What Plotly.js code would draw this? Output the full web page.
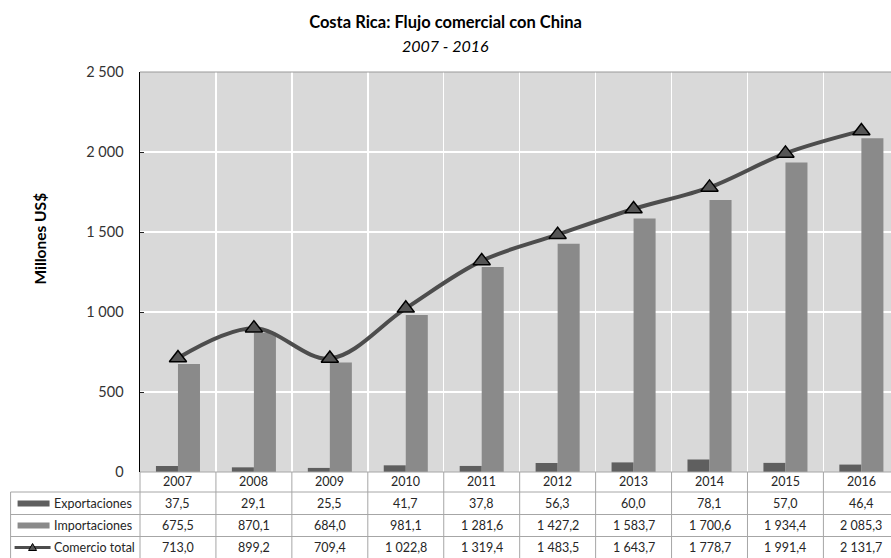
<!DOCTYPE html>
<html>
<head>
<meta charset="utf-8">
<script src="https://cdn.plot.ly/plotly-3.0.1.min.js"></script>
<style>
html,body{margin:0;padding:0;background:#fff;}
#chart{width:891px;height:558px;}
</style>
</head>
<body>
<div id="chart"></div>
<script>
// ---- Data ----
var years = ['2007','2008','2009','2010','2011','2012','2013','2014','2015','2016'];
var exportaciones = [37.5, 29.1, 25.5, 41.7, 37.8, 56.3, 60.0, 78.1, 57.0, 46.4];
var importaciones = [675.5, 870.1, 684.0, 981.1, 1281.6, 1427.2, 1583.7, 1700.6, 1934.4, 2085.3];
var comercioTotal = [713.0, 899.2, 709.4, 1022.8, 1319.4, 1483.5, 1643.7, 1778.7, 1991.4, 2131.7];
var seriesNames = ['Exportaciones', 'Importaciones', 'Comercio total'];
var yTickVals = [0, 500, 1000, 1500, 2000, 2500];
var yTickText = ['0', '500', '1 000', '1 500', '2 000', '2 500'];

// ---- Helpers ----
function fmt(v) {
  var s = v.toFixed(1).split('.');
  var ip = s[0].replace(/\B(?=(\d{3})+(?!\d))/g, ' ');
  return ip + ',' + s[1];
}

var W = 891, H = 558;
var mL = 139.5, mR = 0, mT = 72, mB = 86;
var plotW = W - mL - mR, plotH = H - mT - mB;
var xRange = [-0.5, 9.39];
function px2paperX(p) { return (p - mL) / plotW; }
function px2paperY(p) { return (H - mB - p) / plotH; }
function data2paperX(d) { return (d - xRange[0]) / (xRange[1] - xRange[0]); }

var colExp = '#5f5f5f', colImp = '#8a8a8a', colLine = '#4d4d4d';
var gridCol = '#a6a6a6';
var txtCol = '#262626';
var fontFam = 'Lato, "Open Sans", sans-serif';

var traces = [
  {type:'bar', name:seriesNames[0], x:years, y:exportaciones,
   marker:{color:colExp, line:{width:0}}, hoverinfo:'skip'},
  {type:'bar', name:seriesNames[1], x:years, y:importaciones,
   marker:{color:colImp, line:{width:0}}, hoverinfo:'skip'},
  {type:'scatter', mode:'lines+markers', name:seriesNames[2], x:years, y:comercioTotal,
   line:{color:colLine, width:4, shape:'spline', smoothing:1},
   marker:{symbol:'triangle-up', size:15, color:'#555555', line:{color:'#000', width:1.5}},
   hoverinfo:'skip'}
];

// ---- Table (shapes & annotations) ----
var shapes = [];
var annotations = [];
var rowLinesPx = [492, 514.5, 536.5, 558.5];
var rowCentersPx = [482, 503.5, 525.5, 547.5];
var xLeftPaper = px2paperX(10);
var xRightPaper = 1.0;

shapes.push({type:'line', xref:'paper', yref:'paper', x0:0, x1:xRightPaper, y0:0, y1:0,
  line:{color:gridCol, width:1}});
rowLinesPx.forEach(function(p){
  shapes.push({type:'line', xref:'paper', yref:'paper', x0:xLeftPaper, x1:xRightPaper,
    y0:px2paperY(p), y1:px2paperY(p), line:{color:gridCol, width:1}});
});
shapes.push({type:'line', xref:'paper', yref:'paper', x0:xLeftPaper, x1:xLeftPaper,
  y0:px2paperY(rowLinesPx[0]), y1:px2paperY(rowLinesPx[3]), line:{color:gridCol, width:1}});
for (var k = 0; k <= years.length; k++) {
  var xp = data2paperX(k - 0.5);
  if (xp > 1.0001) continue;
  shapes.push({type:'line', xref:'paper', yref:'paper', x0:xp, x1:xp,
    y0:0, y1:px2paperY(rowLinesPx[3]), line:{color:gridCol, width:1}});
}
shapes.push({type:'line', xref:'paper', yref:'paper', x0:0, x1:1, y0:1, y1:1,
  line:{color:'#9a9a9a', width:1.2}});

var rows = [exportaciones, importaciones, comercioTotal];
years.forEach(function(yr, i){
  annotations.push({xref:'x', yref:'paper', x:i, y:px2paperY(rowCentersPx[0]),
    text:yr, showarrow:false, font:{family:fontFam, size:12.5, color:txtCol},
    xanchor:'center', yanchor:'middle'});
  rows.forEach(function(r, j){
    annotations.push({xref:'x', yref:'paper', x:i, y:px2paperY(rowCentersPx[j+1]),
      text:fmt(r[i]), showarrow:false, font:{family:fontFam, size:12.5, color:txtCol},
      xanchor:'center', yanchor:'middle'});
  });
});

var swX0 = px2paperX(17), swX1 = px2paperX(49);
shapes.push({type:'rect', xref:'paper', yref:'paper', x0:swX0, x1:swX1,
  y0:px2paperY(rowCentersPx[1]+3), y1:px2paperY(rowCentersPx[1]-3),
  fillcolor:colExp, line:{width:0}});
shapes.push({type:'rect', xref:'paper', yref:'paper', x0:swX0, x1:swX1,
  y0:px2paperY(rowCentersPx[2]+3), y1:px2paperY(rowCentersPx[2]-3),
  fillcolor:colImp, line:{width:0}});
shapes.push({type:'line', xref:'paper', yref:'paper', x0:px2paperX(14), x1:px2paperX(50),
  y0:px2paperY(rowCentersPx[3]), y1:px2paperY(rowCentersPx[3]),
  line:{color:colLine, width:3}});
var tcx = 32, tcy = rowCentersPx[3];
shapes.push({type:'path', xref:'paper', yref:'paper',
  path:'M '+px2paperX(tcx-4)+' '+px2paperY(tcy+3)+' L '+px2paperX(tcx+4)+' '+px2paperY(tcy+3)+
       ' L '+px2paperX(tcx)+' '+px2paperY(tcy-4)+' Z',
  fillcolor:'#555555', line:{color:'#000', width:1}});

seriesNames.forEach(function(n, j){
  annotations.push({xref:'paper', yref:'paper', x:px2paperX(51), y:px2paperY(rowCentersPx[j+1]),
    text:n, showarrow:false, font:{family:fontFam, size:12.5, color:txtCol},
    xanchor:'left', yanchor:'middle'});
});

annotations.push({xref:'paper', yref:'paper', x:px2paperX(445.5), y:px2paperY(45),
  text:'<i>2007 - 2016</i>', showarrow:false, font:{family:fontFam, size:16, color:'#000'},
  xanchor:'center', yanchor:'middle'});
annotations.push({xref:'paper', yref:'paper', x:px2paperX(39), y:px2paperY(239),
  text:'<b>Millones US$</b>', showarrow:false, textangle:-90,
  font:{family:fontFam, size:15.5, color:'#000'}, xanchor:'center', yanchor:'middle'});

var layout = {
  width:W, height:H,
  margin:{l:mL, r:mR, t:mT, b:mB, pad:0},
  paper_bgcolor:'#ffffff', plot_bgcolor:'#d9d9d9',
  showlegend:false,
  barmode:'group', bargap:0.42, bargroupgap:0,
  title:{text:'<b>Costa Rica: Flujo comercial con China</b>', xref:'container', yref:'container',
    x:0.5, xanchor:'center', y:1 - 22/H, yanchor:'middle',
    font:{family:fontFam, size:16.5, color:'#000'}},
  xaxis:{type:'category', range:xRange, tickson:'boundaries', showgrid:true,
    gridcolor:'#ffffff', gridwidth:1.5, showticklabels:false, ticks:'', zeroline:false,
    showline:false, fixedrange:true},
  yaxis:{range:[0,2500], tickvals:yTickVals, ticktext:yTickText, showgrid:true,
    gridcolor:'#ffffff', gridwidth:1.5, zeroline:false, showline:true, linecolor:'#000',
    linewidth:1.5, ticks:'inside', ticklen:4, tickcolor:'#222', tickwidth:1,
    ticklabelstandoff:12,
    tickfont:{family:fontFam, size:14.5, color:'#333'}, fixedrange:true},
  shapes:shapes,
  annotations:annotations
};

Plotly.newPlot('chart', traces, layout, {displayModeBar:false, staticPlot:true});
</script>
</body>
</html>
